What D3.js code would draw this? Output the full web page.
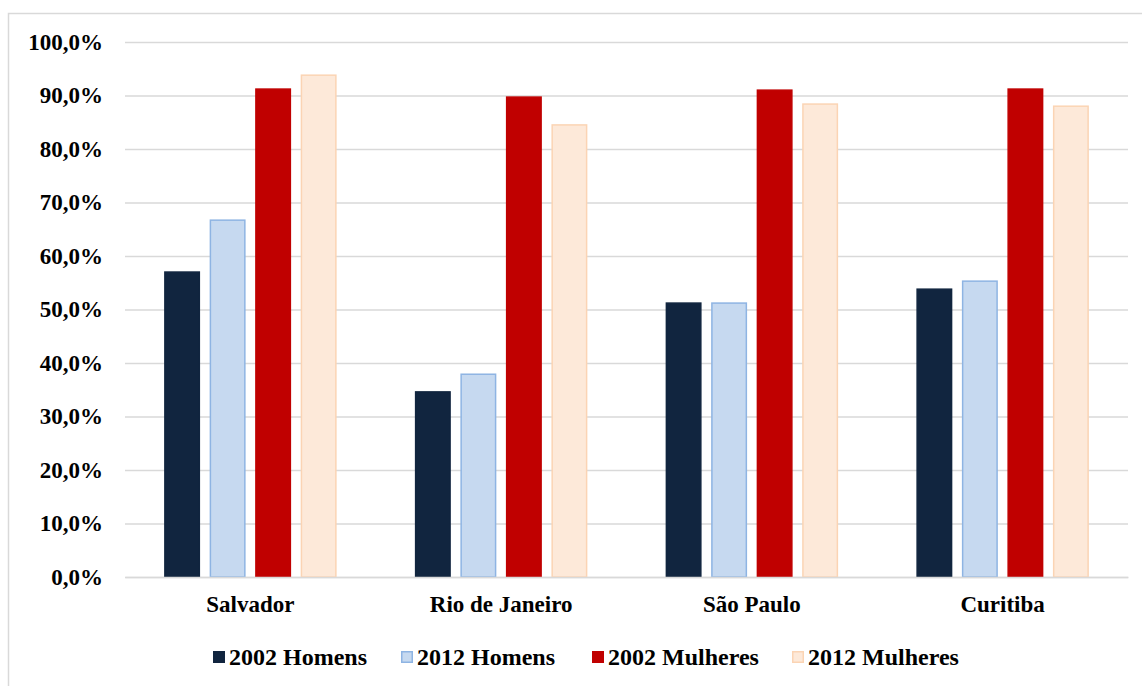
<!DOCTYPE html>
<html>
<head>
<meta charset="utf-8">
<script src="https://cdn.jsdelivr.net/npm/d3@7"></script>
<style>
  body { margin: 0; background: #fff; }
  svg { display: block; font-family: "Liberation Serif", "Times New Roman", serif; font-weight: bold; }
</style>
</head>
<body>
<svg width="1142" height="686"></svg>
<script>
const cities = ["Salvador", "Rio de Janeiro", "São Paulo", "Curitiba"];
const seriesNames = ["2002 Homens", "2012 Homens", "2002 Mulheres", "2012 Mulheres"];
const homens2002 = [57.0, 34.6, 51.2, 53.8];
const homens2012 = [66.7, 37.9, 51.2, 55.3];
const mulheres2002 = [91.2, 89.7, 91.0, 91.2];
const mulheres2012 = [93.8, 84.5, 88.4, 88.0];
const yTicks = [0, 10, 20, 30, 40, 50, 60, 70, 80, 90, 100];

const fills = ["#11253f", "#c6d9f0", "#c00000", "#fde9d9"];
const strokes = ["#11253f", "#8eb4e3", "#c00000", "#fbd4b4"];

const values = [homens2002, homens2012, mulheres2002, mulheres2012];
const rows = cities.flatMap((c, i) =>
  seriesNames.map((s, j) => ({ city: c, series: s, idx: j, value: values[j][i] }))
);

const svg = d3.select("svg");
const margin = { left: 125, right: 14, top: 42, bottom: 109 };
const width = 1142, height = 686;
const fontSize = 23;

// chart frame
svg.append("rect")
  .attr("x", 8.5).attr("y", 13.5)
  .attr("width", 1140).attr("height", 680)
  .attr("fill", "none").attr("stroke", "#d9d9d9").attr("stroke-width", 1.5);

const x = d3.scaleBand()
  .domain(cities)
  .range([margin.left, width - margin.right]);

const xInner = d3.scaleBand()
  .domain(seriesNames)
  .range([0, 172.5])
  .paddingInner(0.21);

const y = d3.scaleLinear()
  .domain([0, 100])
  .range([height - margin.bottom, margin.top]);

const fmt = d => d3.format(".1f")(d).replace(".", ",") + "%";

const yAxis = svg.append("g")
  .attr("transform", `translate(${margin.left},0)`)
  .call(d3.axisLeft(y).tickValues(yTicks).tickFormat(fmt)
    .tickSize(-(width - margin.left - margin.right)).tickPadding(22));
yAxis.select(".domain").remove();
yAxis.selectAll(".tick line").attr("stroke", "#d9d9d9").attr("stroke-width", 1.5);
yAxis.selectAll(".tick text")
  .attr("font-size", fontSize).attr("font-family", "Liberation Serif")
  .attr("font-weight", "bold").attr("fill", "#000");

const groupOffset = (x.bandwidth() - xInner.range()[1]) / 2;

svg.append("g")
  .selectAll("rect")
  .data(rows)
  .join("rect")
  .attr("x", d => x(d.city) + groupOffset + xInner(d.series) + 0.75)
  .attr("y", d => y(d.value))
  .attr("width", xInner.bandwidth() - 1.5)
  .attr("height", d => y(0) - y(d.value))
  .attr("fill", d => fills[d.idx])
  .attr("stroke", d => strokes[d.idx])
  .attr("stroke-width", 1.5);

const xAxis = svg.append("g")
  .attr("transform", `translate(0,${y(0)})`)
  .call(d3.axisBottom(x).tickSize(0).tickPadding(19));
xAxis.select(".domain").attr("stroke", "#d9d9d9").attr("stroke-width", 1.5);
xAxis.selectAll(".tick text")
  .attr("font-size", fontSize).attr("font-family", "Liberation Serif")
  .attr("font-weight", "bold").attr("fill", "#000");

// legend
const legendX = [213, 401, 592, 792];
const legend = svg.append("g")
  .selectAll("g")
  .data(seriesNames)
  .join("g")
  .attr("transform", (d, i) => `translate(${legendX[i]},651)`);

legend.append("rect")
  .attr("x", 0.75).attr("y", 0.75)
  .attr("width", 10.5).attr("height", 10.5)
  .attr("fill", (d, i) => fills[i])
  .attr("stroke", (d, i) => strokes[i])
  .attr("stroke-width", 1.5);

legend.append("text")
  .attr("x", 16).attr("y", 14)
  .attr("font-size", fontSize + 1)
  .attr("fill", "#000")
  .text(d => d);
</script>
</body>
</html>
